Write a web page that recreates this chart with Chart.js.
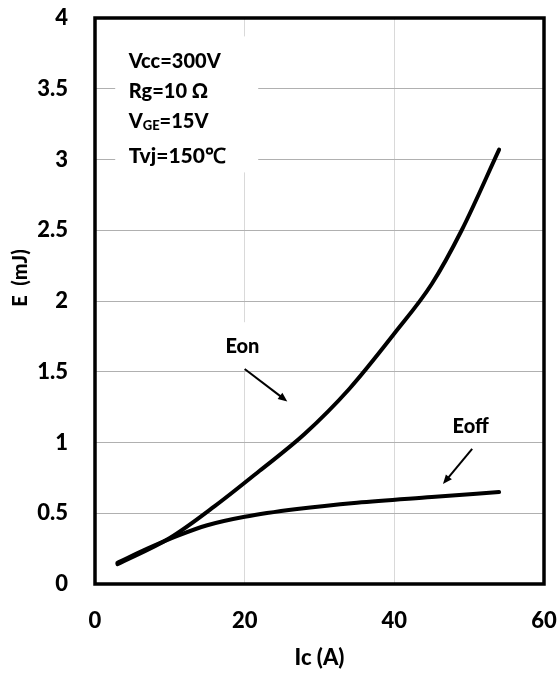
<!DOCTYPE html>
<html>
<head>
<meta charset="utf-8">
<script src="https://cdn.jsdelivr.net/npm/chart.js@4/dist/chart.umd.min.js"></script>
<style>
  html, body { margin: 0; padding: 0; background: #fff; }
  #wrap { width: 560px; height: 675px; }
</style>
</head>
<body>
<div id="wrap"><canvas id="chart" width="560" height="675"></canvas></div>
<script>
// Eon / Eoff switching energy vs collector current
const eonIc  = [3, 10, 16, 22, 28, 34, 40, 45, 49, 54];
const eonE   = [0.14, 0.325, 0.55, 0.8, 1.06, 1.38, 1.77, 2.12, 2.5, 3.07];
const eoffIc = [3, 7, 11, 15, 20, 27, 35, 45, 54];
const eoffE  = [0.15, 0.25, 0.34, 0.415, 0.475, 0.53, 0.575, 0.615, 0.65];
const xTicks = [0, 20, 40, 60];
const yTicks = [0, 0.5, 1, 1.5, 2, 2.5, 3, 3.5, 4];
const conditions = ['Vcc=300V', 'Rg=10 Ω', 'VGE=15V', 'Tvj=150℃'];

const FONT = 'Lato';
const W = '900';

function toPoints(xs, ys) {
    return xs.map((x, i) => ({ x: x, y: ys[i] }));
}

// 白底文字框 + 标注
const annotations = {
    id: 'annotations',
    beforeDatasetsDraw(chart) {
        const { ctx, scales: { x, y } } = chart;
        ctx.save();
        ctx.fillStyle = '#fff';
        // 条件框
        ctx.fillRect(x.getPixelForValue(2.7), y.getPixelForValue(3.87), 143, 136);
        // Eon / Eoff 标签底
        ctx.fillRect(x.getPixelForValue(14.7), y.getPixelForValue(1.85), 75, 47);
        ctx.fillRect(x.getPixelForValue(45.8), y.getPixelForValue(1.3), 70, 40);

        ctx.fillStyle = '#000';
        ctx.font = W + ' 20px ' + FONT;
        ctx.textBaseline = 'middle';
        ctx.textAlign = 'left';
        const left = x.getPixelForValue(4.5);
        const rows = [3.69, 3.48, 3.27, 3.02];
        ctx.fillText(conditions[0], left, y.getPixelForValue(rows[0]));
        ctx.fillText(conditions[1], left, y.getPixelForValue(rows[1]));
        // V_GE 下标
        let px = left;
        const py = y.getPixelForValue(rows[2]);
        ctx.fillText('V', px, py);
        px += ctx.measureText('V').width;
        ctx.font = W + ' 13px ' + FONT;
        ctx.fillText('GE', px, py + 5);
        px += ctx.measureText('GE').width;
        ctx.font = W + ' 20px ' + FONT;
        ctx.fillText('=15V', px, py);
        ctx.font = W + ' 21px ' + FONT;
        ctx.fillText(conditions[3], left, y.getPixelForValue(rows[3]));

        ctx.font = W + ' 20px ' + FONT;
        ctx.textAlign = 'center';
        ctx.fillText('Eon', x.getPixelForValue(19.7), y.getPixelForValue(1.68));
        ctx.fillText('Eoff', x.getPixelForValue(50.2), y.getPixelForValue(1.11));
        ctx.restore();
    },
    afterDatasetsDraw(chart) {
        const { ctx, scales: { x, y }, chartArea } = chart;
        ctx.save();
        drawArrow(ctx, x.getPixelForValue(20), y.getPixelForValue(1.52), x.getPixelForValue(25.7), y.getPixelForValue(1.29));
        drawArrow(ctx, x.getPixelForValue(50.4), y.getPixelForValue(0.955), x.getPixelForValue(46.5), y.getPixelForValue(0.707));
        // 外框
        ctx.strokeStyle = '#000';
        ctx.lineWidth = 3.5;
        ctx.strokeRect(chartArea.left, chartArea.top, chartArea.right - chartArea.left, chartArea.bottom - chartArea.top);
        // 纵轴标题
        ctx.translate(21, 278);
        ctx.rotate(-Math.PI / 2);
        ctx.fillStyle = '#000';
        ctx.font = W + ' 20px ' + FONT;
        ctx.textAlign = 'center';
        ctx.textBaseline = 'middle';
        ctx.fillText('E  (mJ)', 0, 0);
        ctx.restore();
    }
};

function drawArrow(ctx, x1, y1, x2, y2) {
    const ang = Math.atan2(y2 - y1, x2 - x1);
    const head = 10;
    ctx.strokeStyle = '#000';
    ctx.fillStyle = '#000';
    ctx.lineWidth = 2;
    ctx.beginPath();
    ctx.moveTo(x1, y1);
    ctx.lineTo(x2 - Math.cos(ang) * head * 0.8, y2 - Math.sin(ang) * head * 0.8);
    ctx.stroke();
    ctx.beginPath();
    ctx.moveTo(x2, y2);
    ctx.lineTo(x2 - head * Math.cos(ang - 0.4), y2 - head * Math.sin(ang - 0.4));
    ctx.lineTo(x2 - head * Math.cos(ang + 0.4), y2 - head * Math.sin(ang + 0.4));
    ctx.closePath();
    ctx.fill();
}

const lineStyle = {
    borderColor: '#000',
    borderWidth: 4,
    borderCapStyle: 'round',
    pointRadius: 0,
    cubicInterpolationMode: 'monotone',
    fill: false
};

new Chart(document.getElementById('chart').getContext('2d'), {
    type: 'line',
    data: {
        datasets: [
            Object.assign({ label: 'Eon', data: toPoints(eonIc, eonE) }, lineStyle),
            Object.assign({ label: 'Eoff', data: toPoints(eoffIc, eoffE) }, lineStyle)
        ]
    },
    options: {
        responsive: false,
        animation: false,
        layout: { padding: { top: 18, right: 16, left: 0, bottom: 0 } },
        plugins: { legend: { display: false }, tooltip: { enabled: false } },
        scales: {
            x: {
                type: 'linear',
                min: 0,
                max: 60,
                afterBuildTicks: s => { s.ticks = xTicks.map(v => ({ value: v })); },
                afterFit: s => { s.height = 91; s.paddingLeft = 0; s.paddingRight = 0; },
                grid: { color: '#d9d9d9', lineWidth: 1, drawTicks: false },
                border: { display: false },
                ticks: {
                    color: '#000',
                    padding: 24,
                    font: { family: FONT, size: 22, weight: W },
                    callback: v => String(v)
                },
                title: {
                    display: true,
                    text: 'Ic (A)',
                    color: '#000',
                    padding: { top: 0, bottom: 4 },
                    font: { family: FONT, size: 22, weight: W }
                }
            },
            y: {
                min: 0,
                max: 4,
                afterBuildTicks: s => { s.ticks = yTicks.map(v => ({ value: v })); },
                afterFit: s => { s.width = 95; s.paddingTop = 0; s.paddingBottom = 0; },
                grid: { color: '#b0b0b0', lineWidth: 1, drawTicks: false },
                border: { display: false },
                ticks: {
                    color: '#000',
                    padding: 27,
                    font: { family: FONT, size: 22, weight: W },
                    callback: v => String(v)
                },
                title: { display: false }
            }
        }
    },
    plugins: [annotations]
});
</script>
</body>
</html>
